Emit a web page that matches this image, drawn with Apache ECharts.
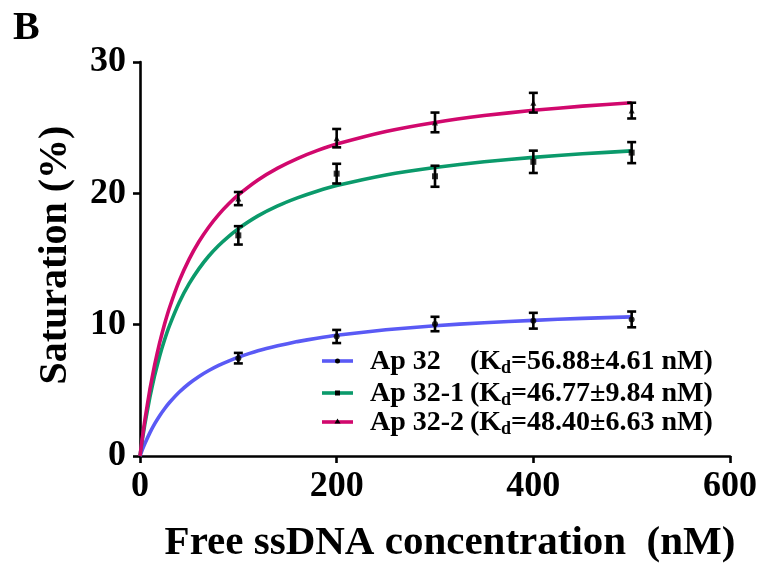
<!DOCTYPE html>
<html>
<head>
<meta charset="utf-8">
<script src="https://cdn.jsdelivr.net/npm/echarts@6/dist/echarts.min.js"></script>
<style>html,body{margin:0;padding:0;background:#fff;}#c{width:763px;height:572px;}</style>
</head>
<body>
<div id="c"></div>
<script>
// ---- data ----
const xPoints = [100, 200, 300, 400, 500];
const ap32Mean   = [7.45, 9.1, 10.05, 10.3, 10.4];
const ap32Err    = [0.4, 0.5, 0.55, 0.6, 0.6];
const ap321Mean  = [16.8, 21.5, 21.3, 22.4, 23.1];
const ap321Err   = [0.7, 0.75, 0.8, 0.85, 0.8];
const ap322Mean  = [19.6, 24.2, 25.4, 26.9, 26.3];
const ap322Err   = [0.5, 0.7, 0.75, 0.75, 0.6];

// fitted curves as they appear in the picture (read at sample x positions)
const curveX     = [0, 2.5, 5, 10, 15, 20, 25, 30, 40, 50, 60, 70, 80, 90, 100, 120, 140, 160, 180, 200, 250, 300, 350, 400, 450, 500];
const ap32Curve  = [0, 0.50, 0.95, 1.76, 2.46, 3.07, 3.60, 4.07, 4.87, 5.52, 6.06, 6.51, 6.90, 7.23, 7.52, 8.01, 8.39, 8.71, 8.97, 9.19, 9.61, 9.92, 10.15, 10.33, 10.48, 10.59];
const ap321Curve = [0, 1.29, 2.45, 4.47, 6.17, 7.61, 8.85, 9.93, 11.71, 13.12, 14.27, 15.23, 16.03, 16.71, 17.31, 18.28, 19.04, 19.65, 20.16, 20.59, 21.40, 21.97, 22.41, 22.74, 23.01, 23.23];
const ap322Curve = [0, 1.45, 2.76, 5.05, 6.98, 8.63, 10.05, 11.29, 13.35, 14.99, 16.33, 17.44, 18.38, 19.18, 19.88, 21.02, 21.92, 22.65, 23.25, 23.75, 24.71, 25.40, 25.92, 26.32, 26.64, 26.90];

const seriesNames = ['Ap 32', 'Ap 32-1', 'Ap 32-2'];
const kdTexts = ['56.88\u00b14.61 nM', '46.77\u00b19.84 nM', '48.40\u00b16.63 nM'];

const xTicks = [0, 200, 400, 600];
const yTicks = [0, 10, 20, 30];
const xTitle = 'Free ssDNA concentration  (nM)';
const yTitle = 'Saturation (%)';
const panelLabel = 'B';

// ---- styles ----
const colors = ['#5a5af5', '#0b9a6b', '#d1086d'];
const markers = ['circle', 'rect', 'triangle'];
const FONT = '"Liberation Serif", "Times New Roman", serif';

function pairs(xs, ys) { return xs.map((x, i) => [x, ys[i]]); }

const curves = [ap32Curve, ap321Curve, ap322Curve];
const means = [ap32Mean, ap321Mean, ap322Mean];
const errs = [ap32Err, ap321Err, ap322Err];

const series = [];
curves.forEach((c, i) => {
  series.push({
    type: 'line', name: seriesNames[i], data: pairs(curveX, c),
    smooth: 0.15, showSymbol: false, symbol: 'none',
    lineStyle: { color: colors[i], width: 3.6, join: 'round' }, z: 2, silent: true
  });
});
means.forEach((m, i) => {
  series.push({
    type: 'custom', name: seriesNames[i] + ' err',
    data: xPoints.map((x, k) => [x, m[k] - errs[i][k], m[k] + errs[i][k]]),
    renderItem: function (params, api) {
      const lo = api.coord([api.value(0), api.value(1)]);
      const hi = api.coord([api.value(0), api.value(2)]);
      const hw = 4.5;
      const st = { stroke: '#000', lineWidth: 2.6 };
      return {
        type: 'group', children: [
          { type: 'line', shape: { x1: lo[0], y1: lo[1], x2: hi[0], y2: hi[1] }, style: st },
          { type: 'line', shape: { x1: lo[0] - hw, y1: lo[1], x2: lo[0] + hw, y2: lo[1] }, style: st },
          { type: 'line', shape: { x1: hi[0] - hw, y1: hi[1], x2: hi[0] + hw, y2: hi[1] }, style: st }
        ]
      };
    },
    z: 5, silent: true
  });
  series.push({
    type: 'scatter', name: seriesNames[i] + ' pts', data: pairs(xPoints, m),
    symbol: markers[i], symbolSize: 6, itemStyle: { color: '#000' }, z: 6, silent: true
  });
});

// legend drawn as graphic
const legendGraphics = [];
const legendY = [361, 393, 422];
seriesNames.forEach((n, i) => {
  const y = legendY[i];
  legendGraphics.push({ type: 'line', shape: { x1: 322, y1: y, x2: 353, y2: y }, style: { stroke: colors[i], lineWidth: 3.6 } });
  const sym = markers[i];
  if (sym === 'circle') legendGraphics.push({ type: 'circle', shape: { cx: 337.5, cy: y, r: 2.5 }, style: { fill: '#000' } });
  else if (sym === 'rect') legendGraphics.push({ type: 'rect', shape: { x: 335, y: y - 2.5, width: 5, height: 5 }, style: { fill: '#000' } });
  else legendGraphics.push({ type: 'polygon', shape: { points: [[337.5, y - 3.5], [334.5, y + 1.5], [340.5, y + 1.5]] }, style: { fill: '#000' } });
  legendGraphics.push({ type: 'text', x: 370, y: y + 1, style: { text: n, font: 'bold 28px ' + FONT, fill: '#000', textVerticalAlign: 'middle' } });
  legendGraphics.push({ type: 'text', x: 470, y: y + 1, style: {
    text: '(K{d|d}=' + kdTexts[i] + ')',
    font: 'bold 28px ' + FONT, fill: '#000', textVerticalAlign: 'middle',
    rich: { d: { fontSize: 18, fontWeight: 'bold', fontFamily: FONT, padding: [13, 0, 0, 0], fill: '#000' } }
  } });
});

const chart = echarts.init(document.getElementById('c'), null, { renderer: 'canvas' });
chart.setOption({
  animation: false,
  backgroundColor: '#fff',
  grid: { left: 140, right: 33, top: 62, bottom: 116, containLabel: false },
  xAxis: {
    type: 'value', min: xTicks[0], max: xTicks[xTicks.length - 1], interval: xTicks[1] - xTicks[0],
    axisLine: { show: true, lineStyle: { color: '#000', width: 2.6 } },
    axisTick: { show: true, inside: false, length: 7, lineStyle: { color: '#000', width: 2.6 } },
    splitLine: { show: false },
    axisLabel: { color: '#000', fontSize: 36, fontWeight: 'bold', fontFamily: FONT, margin: 13 }
  },
  yAxis: {
    type: 'value', min: yTicks[0], max: yTicks[yTicks.length - 1], interval: yTicks[1] - yTicks[0],
    axisLine: { show: true, lineStyle: { color: '#000', width: 2.6 } },
    axisTick: { show: true, inside: false, length: 7, lineStyle: { color: '#000', width: 2.6 } },
    splitLine: { show: false },
    axisLabel: { color: '#000', fontSize: 36, fontWeight: 'bold', fontFamily: FONT, margin: 14 }
  },
  series: series,
  graphic: [
    { type: 'text', left: 13, top: 9, style: { text: panelLabel, font: 'bold 40px ' + FONT, fill: '#000' } },
    { type: 'text', x: 450, y: 543, style: { text: xTitle, font: 'bold 41px ' + FONT, fill: '#000', textAlign: 'center', textVerticalAlign: 'middle' } },
    { type: 'text', x: 56, y: 255, rotation: Math.PI / 2, style: { text: yTitle, font: 'bold 40px ' + FONT, fill: '#000', textAlign: 'center', textVerticalAlign: 'middle' } }
  ].concat(legendGraphics)
});
</script>
</body>
</html>
